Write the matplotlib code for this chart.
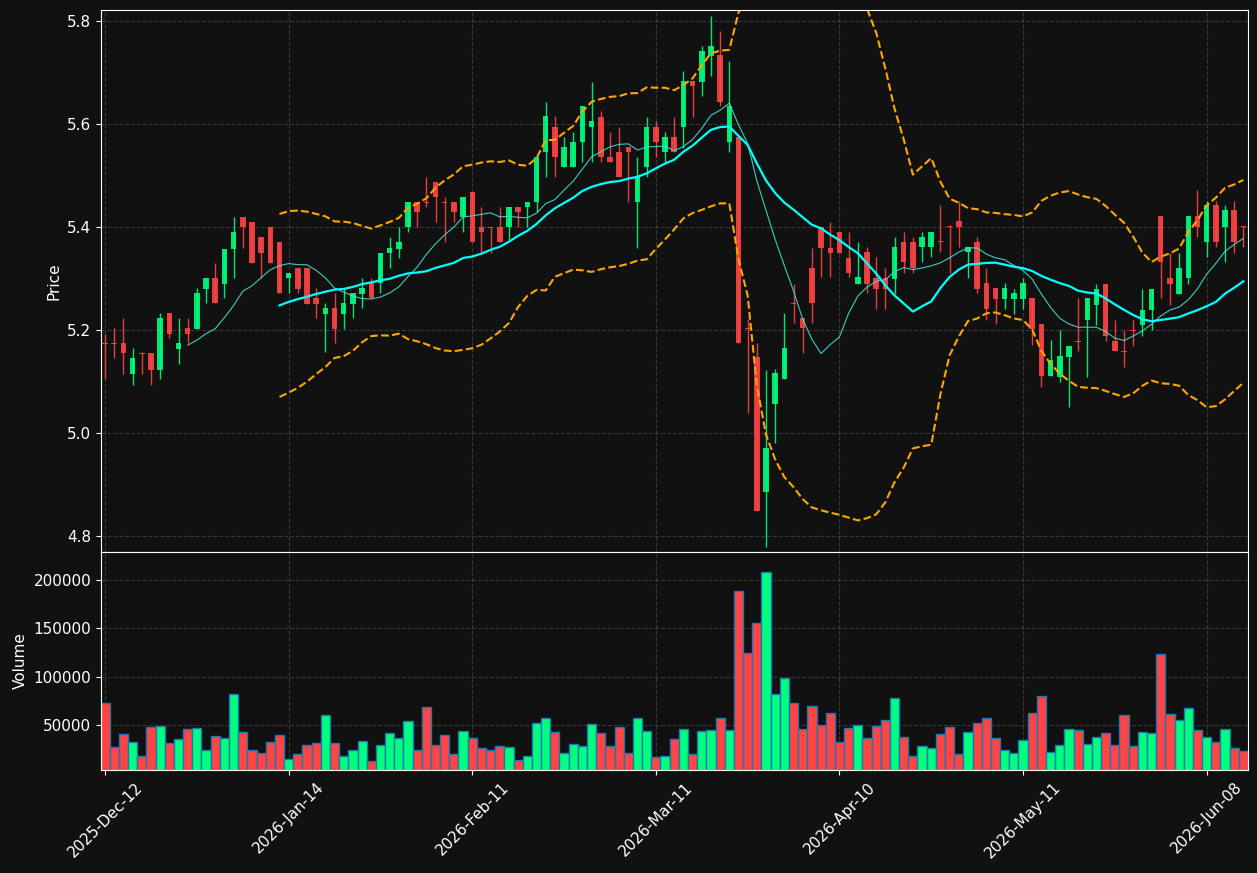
import numpy as np
import pandas as pd
import matplotlib
matplotlib.use("Agg")
import matplotlib.pyplot as plt

# OHLC values (one row per trading day)
opens = [5.175, 5.175, 5.174, 5.114, 5.156, 5.155, 5.122, 5.232, 5.163, 5.203,
         5.202, 5.280, 5.300, 5.290, 5.358, 5.419, 5.409, 5.380, 5.399, 5.370,
         5.300, 5.320, 5.320, 5.261, 5.231, 5.242, 5.231, 5.250, 5.270, 5.291,
         5.291, 5.349, 5.358, 5.399, 5.448, 5.449, 5.487, 5.449, 5.448, 5.419,
         5.467, 5.399, 5.400, 5.399, 5.399, 5.438, 5.438, 5.448, 5.545, 5.594,
         5.516, 5.516, 5.564, 5.594, 5.614, 5.535, 5.545, 5.555, 5.448, 5.516,
         5.594, 5.545, 5.574, 5.593, 5.683, 5.682, 5.731, 5.733, 5.564, 5.574,
         5.204, 5.147, 4.886, 5.056, 5.105, 5.253, 5.223, 5.320, 5.399, 5.359,
         5.390, 5.340, 5.290, 5.351, 5.300, 5.300, 5.299, 5.371, 5.371, 5.360,
         5.360, 5.372, 5.401, 5.411, 5.351, 5.371, 5.291, 5.281, 5.260, 5.260,
         5.260, 5.261, 5.211, 5.111, 5.109, 5.148, 5.179, 5.219, 5.248, 5.290,
         5.178, 5.160, 5.200, 5.209, 5.239, 5.422, 5.300, 5.269, 5.300, 5.422,
         5.370, 5.442, 5.400, 5.432, 5.401]
highs = [5.193, 5.203, 5.223, 5.164, 5.157, 5.155, 5.232, 5.232, 5.223, 5.223,
         5.281, 5.300, 5.329, 5.358, 5.419, 5.419, 5.409, 5.380, 5.399, 5.370,
         5.310, 5.320, 5.320, 5.281, 5.252, 5.271, 5.281, 5.271, 5.300, 5.300,
         5.349, 5.380, 5.399, 5.448, 5.448, 5.496, 5.487, 5.458, 5.448, 5.458,
         5.467, 5.438, 5.400, 5.438, 5.438, 5.438, 5.448, 5.535, 5.643, 5.616,
         5.574, 5.585, 5.634, 5.682, 5.624, 5.584, 5.594, 5.555, 5.535, 5.614,
         5.605, 5.585, 5.614, 5.702, 5.683, 5.751, 5.809, 5.780, 5.721, 5.574,
         5.222, 5.175, 5.123, 5.125, 5.233, 5.290, 5.223, 5.359, 5.399, 5.409,
         5.390, 5.390, 5.370, 5.361, 5.341, 5.320, 5.380, 5.390, 5.380, 5.390,
         5.390, 5.442, 5.401, 5.450, 5.361, 5.380, 5.320, 5.281, 5.291, 5.280,
         5.300, 5.261, 5.211, 5.180, 5.199, 5.169, 5.261, 5.261, 5.290, 5.290,
         5.219, 5.199, 5.219, 5.280, 5.280, 5.422, 5.350, 5.350, 5.422, 5.471,
         5.450, 5.450, 5.442, 5.450, 5.401]
lows = [5.104, 5.145, 5.114, 5.094, 5.114, 5.094, 5.104, 5.184, 5.133, 5.174,
        5.202, 5.252, 5.252, 5.261, 5.300, 5.359, 5.329, 5.300, 5.329, 5.271,
        5.271, 5.271, 5.250, 5.223, 5.157, 5.174, 5.202, 5.223, 5.242, 5.261,
        5.271, 5.320, 5.339, 5.390, 5.399, 5.438, 5.409, 5.370, 5.409, 5.390,
        5.370, 5.352, 5.349, 5.370, 5.370, 5.399, 5.399, 5.429, 5.496, 5.496,
        5.516, 5.516, 5.526, 5.526, 5.526, 5.526, 5.496, 5.448, 5.359, 5.496,
        5.535, 5.526, 5.545, 5.554, 5.614, 5.654, 5.692, 5.634, 5.546, 5.175,
        5.038, 4.849, 4.779, 4.980, 5.105, 5.213, 5.155, 5.213, 5.302, 5.302,
        5.349, 5.302, 5.290, 5.271, 5.241, 5.241, 5.270, 5.310, 5.310, 5.331,
        5.341, 5.351, 5.310, 5.361, 5.300, 5.271, 5.220, 5.211, 5.240, 5.230,
        5.240, 5.170, 5.089, 5.111, 5.099, 5.050, 5.159, 5.109, 5.209, 5.179,
        5.159, 5.129, 5.169, 5.189, 5.199, 5.261, 5.248, 5.269, 5.290, 5.380,
        5.341, 5.360, 5.331, 5.350, 5.360]
closes = [5.173, 5.173, 5.155, 5.145, 5.154, 5.122, 5.223, 5.192, 5.174, 5.192,
          5.271, 5.300, 5.252, 5.358, 5.390, 5.399, 5.329, 5.349, 5.329, 5.271,
          5.310, 5.280, 5.250, 5.250, 5.242, 5.202, 5.252, 5.271, 5.281, 5.261,
          5.349, 5.359, 5.370, 5.448, 5.428, 5.447, 5.458, 5.447, 5.428, 5.458,
          5.370, 5.390, 5.398, 5.370, 5.438, 5.429, 5.448, 5.535, 5.616, 5.535,
          5.555, 5.564, 5.634, 5.605, 5.535, 5.526, 5.496, 5.545, 5.496, 5.594,
          5.564, 5.574, 5.545, 5.683, 5.673, 5.741, 5.751, 5.643, 5.634, 5.175,
          5.202, 4.849, 4.970, 5.116, 5.165, 5.251, 5.203, 5.252, 5.359, 5.349,
          5.349, 5.310, 5.302, 5.289, 5.280, 5.280, 5.361, 5.331, 5.320, 5.380,
          5.390, 5.370, 5.399, 5.400, 5.361, 5.280, 5.240, 5.260, 5.281, 5.271,
          5.291, 5.201, 5.111, 5.141, 5.150, 5.169, 5.177, 5.261, 5.280, 5.189,
          5.159, 5.158, 5.198, 5.239, 5.280, 5.331, 5.290, 5.320, 5.422, 5.400,
          5.442, 5.370, 5.432, 5.370, 5.399]
volumes = [72917, 27083, 40625, 32292, 17708, 47917, 49306, 31597, 35417, 45833,
           46875, 23958, 38542, 36458, 82292, 42708, 23958, 20833, 32292, 39583,
           14583, 19792, 29167, 31250, 60417, 31250, 17708, 23958, 33333, 12500,
           29167, 41667, 36458, 54167, 23958, 68750, 29167, 39583, 19792, 43750,
           36458, 26042, 23958, 28125, 27083, 13542, 17708, 52083, 57292, 42708,
           20833, 30208, 28125, 51042, 41667, 28125, 47917, 20833, 57292, 43750,
           16667, 17708, 35417, 45833, 19792, 43750, 44792, 57292, 44792, 188542,
           125000, 155208, 208333, 82292, 98958, 72917, 45833, 69792, 50000, 62500,
           32292, 46875, 50000, 36458, 48958, 55208, 78125, 37500, 17708, 28125,
           26042, 40625, 47917, 19792, 42708, 52083, 57292, 36458, 23958, 20833,
           34375, 62500, 80208, 21875, 29167, 45833, 44792, 30208, 37500, 41667,
           29167, 60417, 28125, 42708, 41667, 123958, 61458, 55208, 67708, 44792,
           37500, 32292, 45833, 26042, 22917]
tick_labels = ["2025-Dec-12", "2026-Jan-14", "2026-Feb-11", "2026-Mar-11",
               "2026-Apr-10", "2026-May-11", "2026-Jun-08"]

df = pd.DataFrame({"open": opens, "high": highs, "low": lows,
                   "close": closes, "volume": volumes})
x = np.arange(len(df))
up = df["close"] >= df["open"]

UP = "#00ff7f"
DOWN = "#ff4444"
BG = "#111111"
colors = np.where(up, UP, DOWN)

# indicators
sma10 = df["close"].rolling(10).mean()
sma20 = df["close"].rolling(20).mean()
std20 = df["close"].rolling(20).std()
bb_up = sma20 + 2 * std20
bb_lo = sma20 - 2 * std20

fig = plt.figure(figsize=(12.57, 8.73), dpi=100, facecolor=BG)
ax = fig.add_axes([0.0803, 0.3677, 0.9125, 0.6209])
axv = fig.add_axes([0.0803, 0.118, 0.9125, 0.2497], sharex=ax)

for a in (ax, axv):
    a.set_facecolor(BG)
    for s in a.spines.values():
        s.set_color("white")
    a.tick_params(colors="white", labelsize=11)
    a.grid(True, color="gray", linestyle="--", linewidth=0.8, alpha=0.35)
    a.set_axisbelow(True)

# candles
ax.vlines(x, df["low"], df["high"], colors=colors, linewidth=1, alpha=0.9)
body_h = np.maximum((df["close"] - df["open"]).abs(), 0.0015)
body_b = np.minimum(df["open"], df["close"])
ax.bar(x, body_h, bottom=body_b, width=0.6, color=colors, alpha=0.9)

ax.plot(x, sma10, color="turquoise", linewidth=0.8, alpha=0.9)
ax.plot(x, sma20, color="cyan", linewidth=1.6)
ax.plot(x, bb_up, color="orange", linewidth=1.5, linestyle="--")
ax.plot(x, bb_lo, color="orange", linewidth=1.5, linestyle="--")

ax.set_ylim(4.769, 5.821)
ax.set_xlim(-0.45, len(df) - 0.5)
ax.set_yticks([4.8, 5.0, 5.2, 5.4, 5.6, 5.8])
ax.set_ylabel("Price", color="white", fontsize=11)
ax.tick_params(axis="x", labelbottom=False, length=0)

# volume
axv.bar(x, df["volume"], width=1.0, color=colors, edgecolor="#1f77b4", linewidth=1)
axv.set_ylim(3500, df["volume"].max() * 1.1)
axv.set_yticks([50000, 100000, 150000, 200000])
axv.set_yticklabels(["50000", "100000", "150000", "200000"])
axv.set_ylabel("Volume", color="white", fontsize=11)
axv.set_xticks(np.arange(0, len(df), 20))
axv.set_xticklabels(tick_labels, rotation=45, ha="center")

fig.savefig("out.png", dpi=100, facecolor=BG)
